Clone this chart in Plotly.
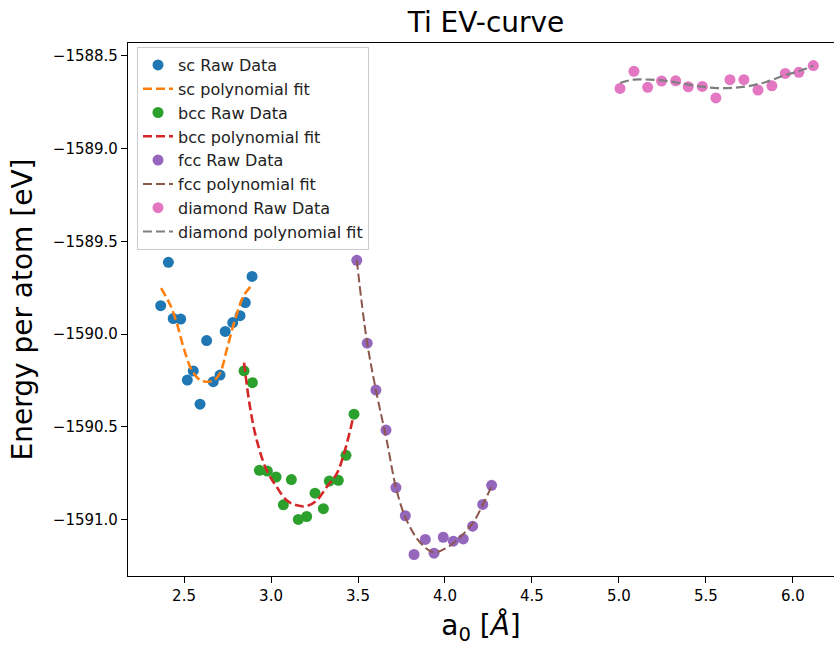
import plotly.graph_objects as go

# ---- data ----
sc_a = [2.366, 2.410, 2.438, 2.481, 2.519, 2.553, 2.592, 2.630, 2.668, 2.707, 2.737, 2.780, 2.822, 2.852, 2.891]
sc_E = [-1589.847, -1589.613, -1589.916, -1589.919, -1590.248, -1590.199, -1590.378, -1590.035,
        -1590.257, -1590.221, -1589.986, -1589.938, -1589.901, -1589.830, -1589.689]
sc_fit_a = [2.368, 2.420, 2.458, 2.496, 2.544, 2.592, 2.630, 2.668, 2.707, 2.745, 2.793, 2.841, 2.883]
sc_fit_E = [-1589.752, -1589.842, -1589.939, -1590.068, -1590.194, -1590.248, -1590.257, -1590.252,
            -1590.210, -1590.086, -1589.923, -1589.797, -1589.743]

bcc_a = [2.845, 2.893, 2.933, 2.979, 3.029, 3.071, 3.117, 3.157, 3.205, 3.253, 3.301, 3.335, 3.387, 3.431, 3.477]
bcc_E = [-1590.198, -1590.262, -1590.735, -1590.739, -1590.771, -1590.921, -1590.785, -1591.000,
         -1590.984, -1590.858, -1590.942, -1590.793, -1590.789, -1590.654, -1590.432]
bcc_fit_a = [2.845, 2.879, 2.918, 2.975, 3.033, 3.090, 3.148, 3.205, 3.263, 3.320, 3.378, 3.425, 3.473]
bcc_fit_E = [-1590.154, -1590.392, -1590.572, -1590.735, -1590.825, -1590.897, -1590.924, -1590.928,
             -1590.897, -1590.825, -1590.753, -1590.627, -1590.446]

fcc_a = [3.493, 3.553, 3.603, 3.661, 3.718, 3.772, 3.822, 3.887, 3.937, 3.990, 4.048, 4.105, 4.159, 4.217, 4.268]
fcc_E = [-1589.602, -1590.049, -1590.302, -1590.518, -1590.828, -1590.980, -1591.189, -1591.108,
         -1591.182, -1591.096, -1591.117, -1591.105, -1591.036, -1590.919, -1590.816]
fcc_fit_a = [3.493, 3.550, 3.607, 3.665, 3.722, 3.780, 3.856, 3.933, 4.010, 4.086, 4.163, 4.220, 4.268]
fcc_fit_E = [-1589.602, -1590.031, -1590.320, -1590.573, -1590.843, -1591.005, -1591.123, -1591.177,
             -1591.153, -1591.096, -1591.015, -1590.915, -1590.821]

dia_a = [5.006, 5.086, 5.165, 5.245, 5.326, 5.398, 5.479, 5.557, 5.638, 5.718, 5.799, 5.879, 5.956, 6.034, 6.117]
dia_E = [-1588.675, -1588.583, -1588.669, -1588.635, -1588.634, -1588.666, -1588.664, -1588.726,
         -1588.628, -1588.628, -1588.684, -1588.661, -1588.594, -1588.588, -1588.552]
dia_fit_a = [5.006, 5.082, 5.178, 5.274, 5.370, 5.466, 5.561, 5.657, 5.753, 5.849, 5.944, 6.040, 6.117]
dia_fit_E = [-1588.646, -1588.628, -1588.628, -1588.635, -1588.650, -1588.664, -1588.673, -1588.672,
             -1588.661, -1588.639, -1588.607, -1588.580, -1588.552]

x_ticks = [2.5, 3.0, 3.5, 4.0, 4.5, 5.0, 5.5, 6.0]
y_ticks = [-1591.0, -1590.5, -1590.0, -1589.5, -1589.0, -1588.5]

FONT = "DejaVu Sans"

series = [
    ("sc", sc_a, sc_E, sc_fit_a, sc_fit_E, "#1f77b4", "#ff7f0e", 2.6),
    ("bcc", bcc_a, bcc_E, bcc_fit_a, bcc_fit_E, "#2ca02c", "#d62728", 2.6),
    ("fcc", fcc_a, fcc_E, fcc_fit_a, fcc_fit_E, "#9467bd", "#8c564b", 2.0),
    ("diamond", dia_a, dia_E, dia_fit_a, dia_fit_E, "#e377c2", "#7f7f7f", 2.2),
]

fig = go.Figure()
for name, xa, ya, fxa, fya, mc, lc, lw in series:
    fig.add_trace(go.Scatter(
        x=xa, y=ya, mode="markers", name=f"{name} Raw Data",
        marker=dict(color=mc, size=11, line=dict(width=0)),
    ))
    fig.add_trace(go.Scatter(
        x=fxa, y=fya, mode="lines", name=f"{name} polynomial fit",
        line=dict(color=lc, width=lw, dash="9px,4px", shape="spline", smoothing=1.0),
    ))

fig.update_layout(
    width=834, height=646,
    margin=dict(l=128, r=0, t=43, b=70),
    paper_bgcolor="white", plot_bgcolor="white",
    font=dict(family=FONT, color="black", size=15),
    title=dict(text="Ti EV-curve", x=486 / 834, xref="container", xanchor="center",
               y=1 - 22 / 646, yref="container", yanchor="middle",
               font=dict(size=28, family=FONT, color="black")),
    showlegend=True,
    legend=dict(
        x=(137 - 128) / 706, y=1 - (47 - 43) / 533, xanchor="left", yanchor="top",
        bgcolor="rgba(255,255,255,0.8)", bordercolor="#cccccc", borderwidth=1,
        font=dict(size=16, family=FONT, color="#222222"),
        tracegroupgap=0, itemwidth=30,
    ),
)
fig.update_xaxes(
    range=[2.178, 6.236], tickvals=x_ticks, ticktext=[f"{v:.1f}" for v in x_ticks],
    showgrid=False, zeroline=False, showline=True, linecolor="black", linewidth=1.2, mirror=True,
    ticks="outside", ticklen=6, tickcolor="black", tickfont=dict(size=15, family=FONT),
    title=dict(text="a<sub>0</sub> [<i>Å</i>]", font=dict(size=28, family=FONT), standoff=12),
)
fig.update_yaxes(
    range=[-1591.305, -1588.43], tickvals=y_ticks, ticktext=[f"\u2212{abs(v):.1f}" for v in y_ticks],
    showgrid=False, zeroline=False, showline=True, linecolor="black", linewidth=1.2, mirror=True,
    ticks="outside", ticklen=6, tickcolor="black", tickfont=dict(size=15, family=FONT),
    title=dict(text="Energy per atom [eV]", font=dict(size=28, family=FONT), standoff=12),
)

fig.write_html("out.html")
